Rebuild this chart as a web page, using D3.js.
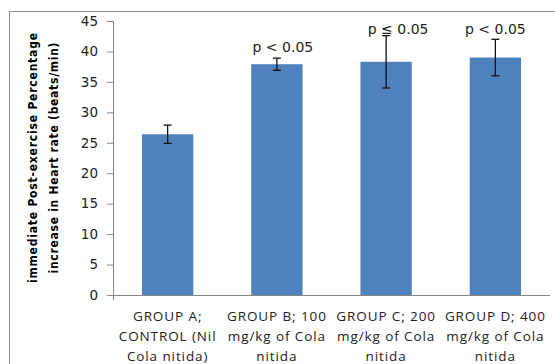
<!DOCTYPE html>
<html>
<head>
<meta charset="utf-8">
<script src="https://cdn.jsdelivr.net/npm/d3@7"></script>
<style>
  body { margin: 0; background: #fff; }
  svg { display: block; }
</style>
</head>
<body>
<svg id="chart" width="555" height="364"></svg>
<script>
// Data
var groups = ['A', 'B', 'C', 'D'];
var groupLabels = [
    ['GROUP A;', 'CONTROL (Nil', 'Cola nitida)'],
    ['GROUP B; 100', 'mg/kg of Cola', 'nitida'],
    ['GROUP C; 200', 'mg/kg of Cola', 'nitida'],
    ['GROUP D; 400', 'mg/kg of Cola', 'nitida']
];
var means = [26.4, 37.9, 38.3, 39.0];
var errors = [1.5, 1.0, 4.3, 3.0];
var pLabels = ['', 'p < 0.05', 'p \u2264 0.05', 'p < 0.05'];
var pLabelAt = [0, 39.9, 42.9, 42.9];
var yTicks = [0, 5, 10, 15, 20, 25, 30, 35, 40, 45];
var yTitle = ['immediate Post-exercise Percentage', 'increase in Heart rate (beats/min)'];

function drawChart() {
    var svg = d3.select('#chart');

    // Outer chart border
    svg.append('rect')
        .attr('x', 9.5).attr('y', 11.5)
        .attr('width', 560).attr('height', 370)
        .attr('fill', 'none')
        .attr('stroke', '#8c8c8c');

    var plotLeft = 113, plotRight = 550, plotTop = 21, plotBottom = 295;

    var x = d3.scaleBand().domain(groups).range([plotLeft, plotRight]).paddingInner(0.53).paddingOuter(0.265);
    var y = d3.scaleLinear().domain([0, 45]).range([plotBottom, plotTop]);
    var cx = function (i) { return x(groups[i]) + x.bandwidth() / 2; };

    // Y axis
    var yAxis = svg.append('g')
        .attr('transform', 'translate(' + plotLeft + ',0)')
        .call(d3.axisLeft(y).tickValues(yTicks).tickSize(6).tickPadding(9));
    yAxis.select('.domain').attr('stroke', '#868686');
    yAxis.selectAll('.tick line').attr('stroke', '#868686');
    yAxis.selectAll('.tick text')
        .attr('fill', '#222')
        .style('font-family', 'DejaVu Sans, Verdana, sans-serif')
        .style('font-size', '13.5px');

    // X axis line
    svg.append('line')
        .attr('x1', plotLeft).attr('x2', plotRight)
        .attr('y1', plotBottom + 0.5).attr('y2', plotBottom + 0.5)
        .attr('stroke', '#868686');
    svg.append('line')
        .attr('x1', plotLeft + 0.5).attr('x2', plotLeft + 0.5)
        .attr('y1', plotBottom).attr('y2', plotBottom + 5)
        .attr('stroke', '#868686');

    // Bars
    svg.selectAll('rect.bar')
        .data(means)
        .enter().append('rect')
        .attr('class', 'bar')
        .attr('x', function (d, i) { return x(groups[i]); })
        .attr('y', function (d) { return y(d); })
        .attr('width', x.bandwidth())
        .attr('height', function (d) { return y(0) - y(d); })
        .attr('fill', '#4f81bd');

    // Error bars
    var eb = svg.selectAll('g.err')
        .data(means)
        .enter().append('g')
        .attr('class', 'err')
        .attr('stroke', '#111')
        .attr('stroke-width', 1.3);
    eb.append('line')
        .attr('x1', function (d, i) { return cx(i); })
        .attr('x2', function (d, i) { return cx(i); })
        .attr('y1', function (d, i) { return y(d + errors[i]); })
        .attr('y2', function (d, i) { return y(d - errors[i]); });
    [1, -1].forEach(function (s) {
        eb.append('line')
            .attr('x1', function (d, i) { return cx(i) - 4; })
            .attr('x2', function (d, i) { return cx(i) + 4; })
            .attr('y1', function (d, i) { return y(d + s * errors[i]); })
            .attr('y2', function (d, i) { return y(d + s * errors[i]); });
    });

    // Significance labels
    var pShift = [0, 6, 12, 0];
    svg.selectAll('text.plab')
        .data(pLabels)
        .enter().append('text')
        .attr('class', 'plab')
        .attr('x', function (d, i) { return cx(i) + pShift[i]; })
        .attr('y', function (d, i) { return y(pLabelAt[i]); })
        .attr('text-anchor', 'middle')
        .attr('fill', '#222')
        .style('font-family', 'DejaVu Sans, Verdana, sans-serif')
        .style('font-size', '14px')
        .text(function (d) { return d; });

    // Category labels
    var cat = svg.selectAll('text.cat')
        .data(groupLabels)
        .enter().append('text')
        .attr('class', 'cat')
        .attr('text-anchor', 'middle')
        .attr('fill', '#222')
        .style('font-family', 'Open Sans, sans-serif')
        .style('font-size', '13.5px')
        .style('letter-spacing', '0.9px');
    cat.selectAll('tspan')
        .data(function (d, i) { return d.map(function (t) { return { t: t, i: i }; }); })
        .enter().append('tspan')
        .attr('x', function (d) { return cx(d.i); })
        .attr('y', function (d, j) { return 321 + j * 20.2; })
        .text(function (d) { return d.t; });

    // Y axis title
    var titleLen = [250, 231];
    svg.append('text')
        .attr('transform', 'translate(0,158) rotate(-90)')
        .attr('text-anchor', 'middle')
        .attr('fill', '#000')
        .style('font-family', 'DejaVu Sans Condensed, sans-serif')
        .style('font-weight', 'bold')
        .style('font-size', '12px')
        .selectAll('tspan')
        .data(yTitle)
        .enter().append('tspan')
        .attr('x', 0)
        .attr('y', function (d, i) { return 37 + i * 20.5; })
        .attr('textLength', function (d, i) { return titleLen[i]; })
        .attr('lengthAdjust', 'spacing')
        .text(function (d) { return d; });
}

drawChart();
</script>
</body>
</html>
